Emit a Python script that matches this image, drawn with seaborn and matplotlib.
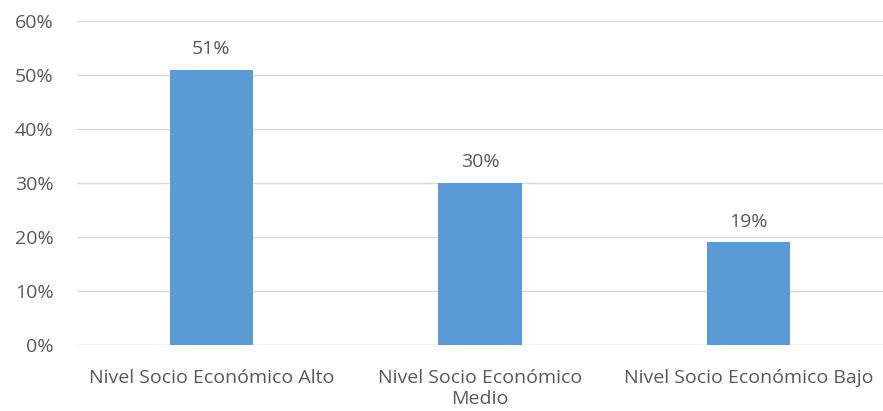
import matplotlib
matplotlib.use("Agg")
import matplotlib.pyplot as plt
import seaborn as sns
import pandas as pd
from matplotlib.ticker import PercentFormatter

categorias = ["Nivel Socio Económico Alto", "Nivel Socio Económico\nMedio", "Nivel Socio Económico Bajo"]
valores = [51, 30, 19]

df = pd.DataFrame({"Categoria": categorias, "Valor": valores})

sns.set_theme(style="white")
plt.rcParams["font.family"] = ["Open Sans", "DejaVu Sans"]

fig = plt.figure(figsize=(8.83, 4.11), dpi=100)
ax = fig.add_axes([0.0872, 0.1606, 0.9128, 0.7884])

sns.barplot(data=df, x="Categoria", y="Valor", color="#5B9BD5", width=0.31,
            saturation=1, linewidth=0, ax=ax, zorder=3)

ax.set_ylim(0, 60)
ax.set_yticks(range(0, 61, 10))
ax.yaxis.set_major_formatter(PercentFormatter(decimals=0))
ax.grid(axis="y", color="#D9D9D9", linewidth=1, zorder=0)
ax.set_axisbelow(True)
for s in ax.spines.values():
    s.set_visible(False)
ax.set_xlabel("")
ax.set_ylabel("")
ax.tick_params(axis="both", length=0, labelsize=14, colors="#595959")
ax.tick_params(axis="y", pad=17)
ax.tick_params(axis="x", pad=17)
for lbl in ax.get_xticklabels():
    lbl.set_linespacing(1.25)

for i, v in enumerate(valores):
    ax.text(i, v + 2.2, f"{v}%", ha="center", va="bottom", fontsize=14, color="#595959")

fig.savefig("out.png", dpi=100)
